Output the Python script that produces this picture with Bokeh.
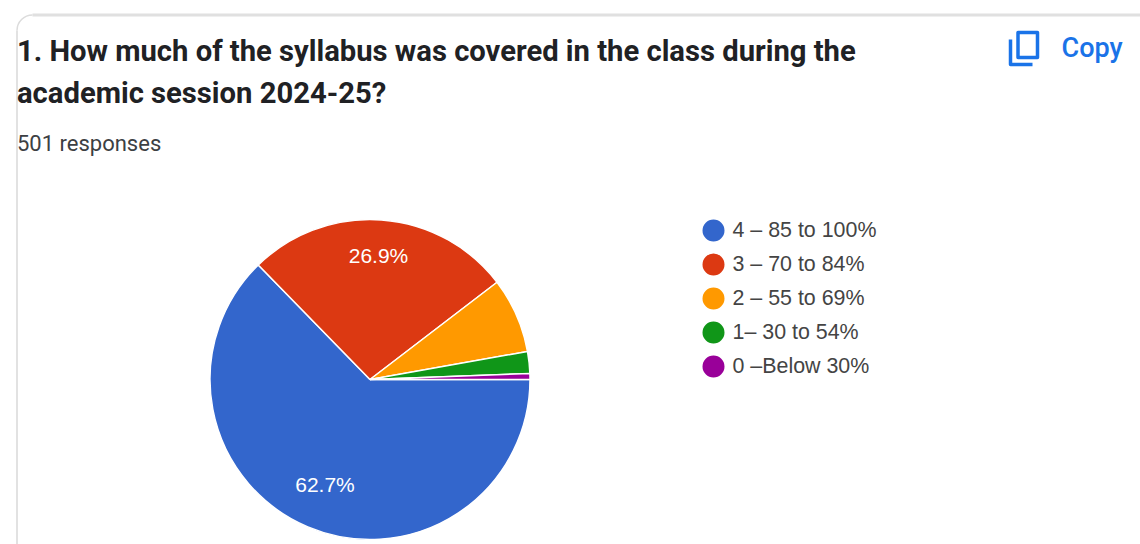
from bokeh.plotting import figure
from bokeh.models import Range1d, ColumnDataSource
from bokeh.core.properties import value
from bokeh.embed import file_html
from bokeh.resources import INLINE
import math

labels = ["4 – 85 to 100%", "3 – 70 to 84%", "2 – 55 to 69%", "1– 30 to 54%", "0 –Below 30%"]
shares = [62.7, 26.9, 7.6, 2.2, 0.6]
colors = ["#3366cc", "#dc3912", "#ff9900", "#109618", "#990099"]
title_lines = ["1. How much of the syllabus was covered in the class during the", "academic session 2024-25?"]
subtitle = "501 responses"

W, H = 1140, 544
p = figure(width=W, height=H, output_backend="svg", toolbar_location=None,
           x_range=Range1d(0, W), y_range=Range1d(H, 0),
           min_border=0, outline_line_color=None, background_fill_color="white")
p.xaxis.visible = False
p.yaxis.visible = False
p.grid.visible = False

# card border
p.line([16.5, 16.5], [H, 30], line_color="#d9d9d9", line_width=1.5)
p.arc(x=[32], y=[30], radius=15.5, start_angle=math.pi / 2, end_angle=math.pi,
      direction="anticlock", line_color="#dcdcdc", line_width=1.5)
p.line([32, W], [14.5, 14.5], line_color="#e0e0e0", line_width=3)

# pie: clockwise on screen from due east
cx, cy, r = 369.5, 379, 160
total = sum(shares)
starts, ends, acc = [], [], 0.0
for s in shares:
    starts.append(-2 * math.pi * acc / total)
    acc += s
    ends.append(-2 * math.pi * acc / total)
src = ColumnDataSource(dict(start=starts, end=ends, color=colors))
p.wedge(x=cx, y=cy, radius=r, start_angle="start", end_angle="end", direction="clock",
        fill_color="color", line_color="white", line_width=1.5, source=src)

# slice labels
p.text(x=[324.5, 378], y=[484, 255], text=[f"{shares[0]}%", f"{shares[1]}%"], text_color="white",
       text_font=value("Liberation Sans"), text_font_size="21px", text_align="center", text_baseline="middle")

# legend
ly = [230 + 34 * i for i in range(len(labels))]
p.scatter(x=[713] * len(labels), y=ly, size=22, color=colors, line_color=None, marker="circle")
p.text(x=[732] * len(labels), y=[v - 1 for v in ly], text=labels, text_color="#444444", text_font=value("Liberation Sans"),
       text_font_size="21.4px", text_align="left", text_baseline="middle")

# heading
p.text(x=[16.5, 16.5], y=[50, 92], text=title_lines, text_color="#202124", text_font=value("Roboto"),
       text_font_style="bold", text_font_size="29.2px", text_align="left", text_baseline="middle")
p.text(x=[16.5], y=[143], text=[subtitle], text_color="#3c4043", text_font=value("Roboto"),
       text_font_size="22px", text_align="left", text_baseline="middle")

# copy button
blue = "#1a73e8"
p.quad(left=1017.5, right=1037, top=32, bottom=57, fill_color=None, line_color=blue, line_width=3.5, line_join="round")
p.line([1010, 1010, 1032], [39, 64, 64], line_color=blue, line_width=3.5, line_join="round")
p.text(x=[1061], y=[47], text=["Copy"], text_color=blue, text_font=value("Roboto Medium"),
       text_font_size="27px", text_align="left", text_baseline="middle")

open("out.html", "w").write(file_html(p, INLINE))
